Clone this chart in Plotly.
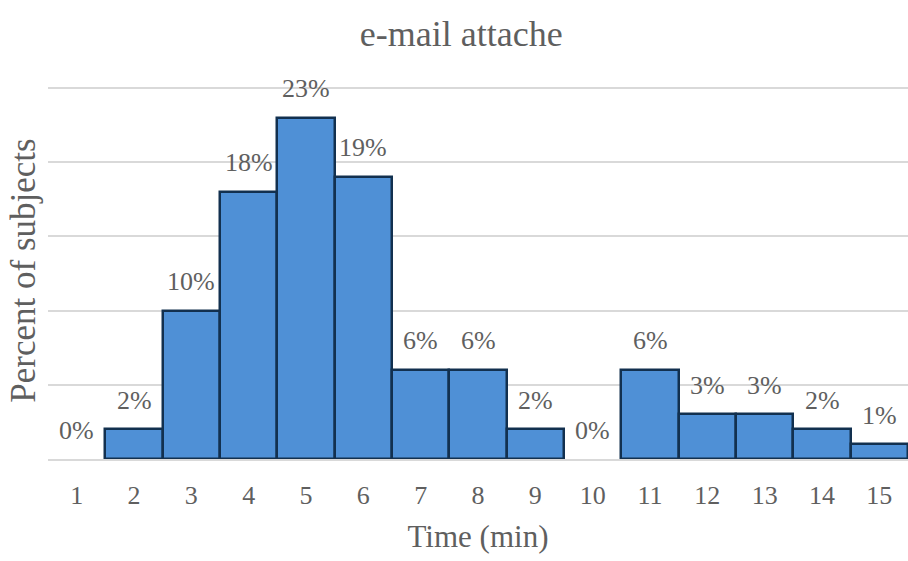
import plotly.graph_objects as go

# Distribution of completion times for the e-mail attachment task
minutes = list(range(1, 16))
percent = [0, 2, 10, 18, 23, 19, 6, 6, 2, 0, 6, 3, 3, 2, 1]
labels = [f"{p}%" for p in percent]

FONT = "'Liberation Serif', 'Times New Roman', serif"
TEXT_GRAY = "#5f5f5f"

fig = go.Figure(
    go.Bar(
        x=minutes,
        y=percent,
        width=1,
        marker=dict(
            color="#4f90d6",
            line=dict(color="#12304f", width=[0 if p == 0 else 2.5 for p in percent]),
        ),
        hoverinfo="skip",
    )
)

# value labels floating above each bar
for m, p, lab in zip(minutes, percent, labels):
    fig.add_annotation(
        x=m, y=p, text=lab, showarrow=False,
        yanchor="middle", yshift=29,
        font=dict(family=FONT, size=26, color=TEXT_GRAY),
    )

fig.update_layout(
    width=908,
    height=561,
    margin=dict(l=48, r=0, t=82, b=102),
    paper_bgcolor="white",
    plot_bgcolor="white",
    bargap=0,
    showlegend=False,
    title=dict(
        text="e-mail attache",
        x=0.508,
        xanchor="center",
        y=0.94,
        yanchor="middle",
        font=dict(family=FONT, size=36, color=TEXT_GRAY),
    ),
    xaxis=dict(
        title=dict(text="Time (min)", font=dict(family=FONT, size=31, color=TEXT_GRAY), standoff=16),
        tickfont=dict(family=FONT, size=26, color=TEXT_GRAY),
        tickmode="array",
        tickvals=minutes,
        ticktext=[str(m) for m in minutes],
        range=[0.5, 15.5],
        showgrid=False,
        zeroline=False,
        showline=True,
        linecolor="#d9d9d9",
        linewidth=1.5,
        ticks="",
        ticklabelstandoff=12,
    ),
    yaxis=dict(
        title=dict(text="Percent of subjects", font=dict(family=FONT, size=35, color=TEXT_GRAY), standoff=0),
        range=[0, 25.4],
        dtick=5,
        showticklabels=False,
        showgrid=True,
        gridcolor="#d9d9d9",
        gridwidth=1.5,
        zeroline=False,
        ticks="",
    ),
)

fig.write_html("out.html")
